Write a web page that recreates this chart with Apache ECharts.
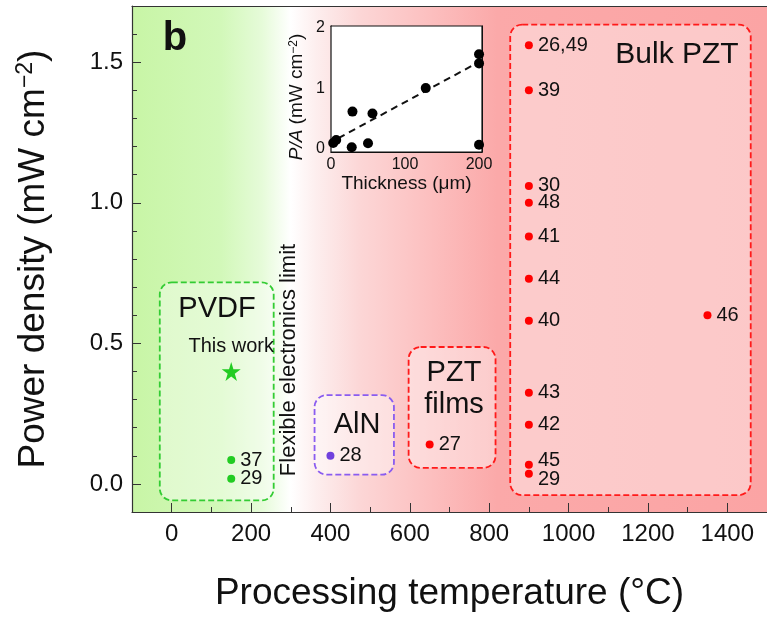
<!DOCTYPE html>
<html><head><meta charset="utf-8">
<script src="https://cdn.jsdelivr.net/npm/echarts@6/dist/echarts.min.js"></script>
<style>html,body{margin:0;padding:0;background:#fff}#c{width:767px;height:617px}</style>
</head><body><div id="c"></div>
<script>
const FONT = "'Liberation Sans', Arial, Helvetica, sans-serif";

// ---------- data ----------
const pvdfTemp = [150, 150];
const pvdfPower = [0.085, 0.018];
const pvdfRefs = ['37', '29'];

const thisWorkTemp = [150];
const thisWorkPower = [0.40];

const alnTemp = [400];
const alnPower = [0.10];
const alnRefs = ['28'];

const pztFilmTemp = [650];
const pztFilmPower = [0.14];
const pztFilmRefs = ['27'];

const bulkTemp = [900, 900, 900, 900, 900, 900, 900, 900, 900, 900, 900, 1350];
const bulkPower = [1.56, 1.40, 1.06, 1.00, 0.88, 0.73, 0.58, 0.324, 0.21, 0.068, 0.036, 0.60];
const bulkRefs = ['26,49', '39', '30', '48', '41', '44', '40', '43', '42', '45', '29', '46'];

const groupNames = ['PVDF', 'AlN', 'PZT films', 'Bulk PZT'];
const groupTempLow = [-30, 360, 597, 853];
const groupTempHigh = [257, 560, 816, 1459];
const groupPowerLow = [-0.059, 0.033, 0.057, -0.04];
const groupPowerHigh = [0.717, 0.316, 0.487, 1.634];

const xTickLabels = [0, 200, 400, 600, 800, 1000, 1200, 1400];
const xMinorTicks = [100, 300, 500, 700, 900, 1100, 1300];
const yTickLabels = [0, 0.5, 1.0, 1.5];
const yMinorTicks = [0.1, 0.2, 0.3, 0.4, 0.6, 0.7, 0.8, 0.9, 1.1, 1.2, 1.3, 1.4, 1.6];

// inset: power density vs thickness
const thickness = [3, 7, 28, 29, 50, 56, 128, 200, 200, 200];
const powerPerArea = [0.09, 0.14, 0.02, 0.61, 0.085, 0.58, 1.0, 1.56, 1.41, 0.06];
const fitThickness = [10, 195];
const fitPower = [0.17, 1.40];
const insetXTicks = [0, 50, 100, 150, 200];
const insetXLabels = [0, 100, 200];
const insetYTicks = [0, 0.5, 1, 1.5, 2];
const insetYLabels = [0, 1, 2];

// ---------- styles ----------
const boxColors = ['#33cc33', '#8a5cf0', '#ff1a1a', '#ff1a1a'];
const bulkLabelOffsets = {9: [0, -4], 10: [0, 6]};
const STAR = 'path://M50,0 L61,35 L98,35 L68,57 L79,91 L50,70 L21,91 L32,57 L2,35 L39,35 Z';

const zip = (a, b) => a.map((v, i) => [v, b[i]]);
const labelStyle = {show: true, position: 'right', distance: 5, fontSize: 20, color: '#111', fontFamily: FONT};

const boxData = groupNames.map((n, i) => [groupTempLow[i], groupPowerHigh[i], groupTempHigh[i], groupPowerLow[i]]);

const bgGradient = {
  type: 'linear', x: 0, y: 0, x2: 1, y2: 0,
  colorStops: [
    {offset: 0, color: '#c8f5a6'},
    {offset: 0.14, color: '#d2f8b9'},
    {offset: 0.205, color: '#e6fbd9'},
    {offset: 0.25, color: '#ffffff'},
    {offset: 0.29, color: '#fdeeee'},
    {offset: 0.36, color: '#fcd6d6'},
    {offset: 0.47, color: '#fcbfbf'},
    {offset: 0.575, color: '#fba9a9'},
    {offset: 1, color: '#fba4a4'}
  ]
};

const axisLineStyle = {onZero: false, lineStyle: {color: '#333', width: 1.2}};
const tickText = {fontSize: 24, color: '#111', fontFamily: FONT};

const option = {
  animation: false,
  backgroundColor: '#ffffff',
  textStyle: {fontFamily: FONT},
  grid: [
    {left: 132, top: 6, right: -5, bottom: 102, show: true, backgroundColor: bgGradient, borderWidth: 0},
    {left: 331, top: 26, width: 151, height: 126, show: true, backgroundColor: '#ffffff', borderColor: '#111', borderWidth: 1.2, z: 5}
  ],
  xAxis: [
    {gridIndex: 0, type: 'value', min: -100, max: 1500, position: 'bottom',
     axisLine: axisLineStyle,
     axisTick: {inside: true, length: 9, customValues: xTickLabels, lineStyle: {color: '#333'}},
     axisLabel: Object.assign({customValues: xTickLabels, margin: 10, formatter: v => String(v)}, tickText),
     splitLine: {show: false},
     name: 'Processing temperature (°C)', nameLocation: 'middle', nameGap: 63,
     nameTextStyle: {fontSize: 37, color: '#111', fontFamily: FONT}},
    {gridIndex: 0, type: 'value', min: -100, max: 1500, position: 'bottom',
     axisLine: {show: false, onZero: false},
     axisTick: {inside: true, length: 5, customValues: xMinorTicks, lineStyle: {color: '#333'}},
     axisLabel: {show: false}, splitLine: {show: false}},
    {gridIndex: 0, type: 'value', min: -100, max: 1500, position: 'top',
     axisLine: axisLineStyle, axisTick: {show: false}, axisLabel: {show: false}, splitLine: {show: false}},
    {gridIndex: 1, type: 'value', min: 0, max: 204, position: 'bottom',
     axisLine: {onZero: false, lineStyle: {color: '#111'}},
     axisTick: {inside: true, length: 4, customValues: insetXTicks, lineStyle: {color: '#111'}},
     axisLabel: {customValues: insetXLabels, margin: 5, fontSize: 16, color: '#111', fontFamily: FONT},
     splitLine: {show: false},
     name: 'Thickness (μm)', nameLocation: 'middle', nameGap: 21,
     nameTextStyle: {fontSize: 19, color: '#111', fontFamily: FONT}},
    {gridIndex: 1, type: 'value', min: 0, max: 204, position: 'top',
     axisLine: {onZero: false, lineStyle: {color: '#111'}},
     axisTick: {inside: true, length: 4, customValues: insetXTicks, lineStyle: {color: '#111'}},
     axisLabel: {show: false}, splitLine: {show: false}}
  ],
  yAxis: [
    {gridIndex: 0, type: 'value', min: -0.1, max: 1.7, position: 'left',
     axisLine: axisLineStyle,
     axisTick: {inside: true, length: 9, customValues: yTickLabels, lineStyle: {color: '#333'}},
     axisLabel: Object.assign({customValues: yTickLabels, margin: 9, formatter: v => Number(v).toFixed(1)}, tickText),
     splitLine: {show: false},
     name: 'Power density (mW cm{sup|−2})', nameLocation: 'middle', nameGap: 78,
     nameTextStyle: {fontSize: 37, color: '#111', fontFamily: FONT, lineHeight: 40,
       rich: {sup: {fontSize: 23, verticalAlign: 'top', color: '#111', fontFamily: FONT, lineHeight: 40}}}},
    {gridIndex: 0, type: 'value', min: -0.1, max: 1.7, position: 'left',
     axisLine: {show: false, onZero: false},
     axisTick: {inside: true, length: 5, customValues: yMinorTicks, lineStyle: {color: '#333'}},
     axisLabel: {show: false}, splitLine: {show: false}},
    {gridIndex: 1, type: 'value', min: -0.06, max: 2.03, position: 'left',
     axisLine: {onZero: false, lineStyle: {color: '#111'}},
     axisTick: {inside: true, length: 4, customValues: insetYTicks, lineStyle: {color: '#111'}},
     axisLabel: {customValues: insetYLabels, margin: 6, fontSize: 16, color: '#111', fontFamily: FONT},
     splitLine: {show: false}},
    {gridIndex: 1, type: 'value', min: -0.06, max: 2.03, position: 'right',
     axisLine: {onZero: false, lineStyle: {color: '#111'}},
     axisTick: {inside: true, length: 4, customValues: insetYTicks, lineStyle: {color: '#111'}},
     axisLabel: {show: false}, splitLine: {show: false}}
  ],
  series: [
    {type: 'custom', xAxisIndex: 0, yAxisIndex: 0, z: 1, data: boxData,
     encode: {x: [0, 2], y: [1, 3]},
     renderItem: function (params, api) {
       const p1 = api.coord([api.value(0), api.value(1)]);
       const p2 = api.coord([api.value(2), api.value(3)]);
       return {type: 'rect',
         shape: {x: p1[0], y: p1[1], width: p2[0] - p1[0], height: p2[1] - p1[1], r: 12},
         style: {fill: 'rgba(255,255,255,0.4)', stroke: boxColors[params.dataIndex], lineWidth: 1.8, lineDash: [6, 3]}};
     }},
    {type: 'scatter', xAxisIndex: 0, yAxisIndex: 0, z: 3, symbolSize: 8,
     itemStyle: {color: '#22cc22', opacity: 1},
     data: zip(pvdfTemp, pvdfPower).map((d, i) => ({value: d, label: Object.assign({formatter: pvdfRefs[i]}, labelStyle)}))},
    {type: 'scatter', xAxisIndex: 0, yAxisIndex: 0, z: 3, symbol: STAR, symbolSize: 19,
     itemStyle: {color: '#22cc22', opacity: 1},
     label: {show: true, position: 'top', distance: 5, formatter: 'This work', fontSize: 20, color: '#111', fontFamily: FONT},
     data: zip(thisWorkTemp, thisWorkPower)},
    {type: 'scatter', xAxisIndex: 0, yAxisIndex: 0, z: 3, symbolSize: 8,
     itemStyle: {color: '#7040dd', opacity: 1},
     data: zip(alnTemp, alnPower).map((d, i) => ({value: d, label: Object.assign({formatter: alnRefs[i]}, labelStyle)}))},
    {type: 'scatter', xAxisIndex: 0, yAxisIndex: 0, z: 3, symbolSize: 8,
     itemStyle: {color: '#ff0000', opacity: 1},
     data: zip(pztFilmTemp, pztFilmPower).map((d, i) => ({value: d, label: Object.assign({formatter: pztFilmRefs[i]}, labelStyle)}))},
    {type: 'scatter', xAxisIndex: 0, yAxisIndex: 0, z: 3, symbolSize: 8,
     itemStyle: {color: '#ff0000', opacity: 1},
     data: zip(bulkTemp, bulkPower).map((d, i) => ({value: d,
       label: Object.assign({formatter: bulkRefs[i], offset: bulkLabelOffsets[i] || [0, 0]}, labelStyle)}))},
    {type: 'line', xAxisIndex: 3, yAxisIndex: 2, z: 6, symbol: 'none',
     lineStyle: {color: '#111', width: 2, type: [7, 5]},
     data: zip(fitThickness, fitPower)},
    {type: 'scatter', xAxisIndex: 3, yAxisIndex: 2, z: 7, symbolSize: 10,
     itemStyle: {color: '#000', opacity: 1},
     data: zip(thickness, powerPerArea)}
  ],
  graphic: [
    {type: 'text', x: 175, y: 39, z: 10, style: {text: 'b', font: "bold 40px " + FONT, fill: '#111', align: 'center', verticalAlign: 'middle'}},
    {type: 'text', x: 217, y: 309, z: 10, style: {text: 'PVDF', font: "29px " + FONT, fill: '#111', align: 'center', verticalAlign: 'middle'}},
    {type: 'text', x: 357, y: 425, z: 10, style: {text: 'AlN', font: "29px " + FONT, fill: '#111', align: 'center', verticalAlign: 'middle'}},
    {type: 'text', x: 454, y: 389, z: 10, style: {text: 'PZT\nfilms', font: "29px " + FONT, lineHeight: 32, fill: '#111', align: 'center', verticalAlign: 'middle'}},
    {type: 'text', x: 677, y: 55, z: 10, style: {text: 'Bulk PZT', font: "30px " + FONT, fill: '#111', align: 'center', verticalAlign: 'middle'}},
    {type: 'text', x: 289, y: 360, rotation: Math.PI / 2, z: 10, style: {text: 'Flexible electronics limit', font: "22px " + FONT, fill: '#111', align: 'center', verticalAlign: 'middle'}},
    {type: 'text', x: 297, y: 97, rotation: Math.PI / 2, z: 10, style: {
      text: '{i|P/A} (mW cm{sup|−2})', font: "19px " + FONT, fill: '#111', align: 'center', verticalAlign: 'middle',
      rich: {i: {fontStyle: 'italic', fontSize: 19, fontFamily: FONT, fill: '#111'},
             sup: {fontSize: 12, verticalAlign: 'top', fontFamily: FONT, fill: '#111'}}}}
  ]
};

const chart = echarts.init(document.getElementById('c'), null, {renderer: 'canvas'});
chart.setOption(option);
</script>
</body></html>
